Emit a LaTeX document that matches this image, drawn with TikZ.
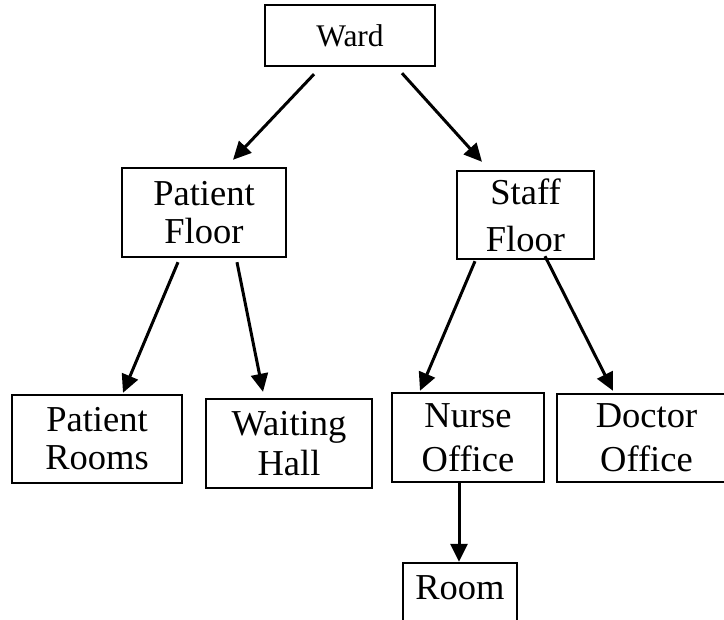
\documentclass[tikz,border=0pt]{standalone}
\usepackage{fontspec}
\setmainfont{Liberation Serif}
\usetikzlibrary{arrows.meta}

\begin{document}
\begin{tikzpicture}[x=1pt,y=-1pt,
  box/.style={draw, line width=2.4pt, rectangle, inner sep=0pt, align=center,
    font=\fontsize{36.5}{40}\selectfont},
  link/.style={line width=3pt, -{Triangle[length=18pt,width=17pt]}}]
\useasboundingbox (0,0) rectangle (724,620);
\clip (0,0) rectangle (724,620);

% boxes
\node[box, minimum width=170pt, minimum height=61pt,
      font=\fontsize{31.5}{36}\selectfont] (ward) at (350,35.5) {Ward};
\node[box, minimum width=164pt, minimum height=89pt] (pfloor) at (204,212.5) {Patient\\[-2pt]Floor};
\node[box, minimum width=137pt, minimum height=88pt] (sfloor) at (525.5,215) {Staff\\[7pt]Floor};
\node[box, minimum width=170pt, minimum height=88pt] (prooms) at (97,439) {Patient\\[-2pt]Rooms};
\node[box, minimum width=166pt, minimum height=89pt] (whall) at (289,443.5) {Waiting\\Hall};
\node[box, minimum width=152pt, minimum height=89pt] (noffice) at (468,437.5) {Nurse\\[4pt]Office};
\node[box, minimum width=179pt, minimum height=88pt] (doffice) at (646.5,438) {Doctor\\[4pt]Office};
\node[box, minimum width=114pt, minimum height=64pt, text depth=15pt] (room) at (460,595) {Room};

% connectors
\draw[link] ([shift={(-36,7)}]ward.south) -- ([shift={(29,-7)}]pfloor.north);
\draw[link] ([shift={(52,6)}]ward.south) -- ([shift={(-43.5,-8)}]sfloor.north);
\draw[link] ([shift={(-26,4)}]pfloor.south) -- ([shift={(26,-1)}]prooms.north);
\draw[link] ([shift={(33,4)}]pfloor.south) -- ([shift={(-26,-6)}]whall.north);
\draw[link] ([shift={(-50.5,1)}]sfloor.south) -- ([shift={(-48,-1)}]noffice.north);
\draw[link] ([shift={(19.5,-4)}]sfloor.south) -- ([shift={(-33.5,-2)}]doffice.north);
\draw[link] ([shift={(-9,0)}]noffice.south) -- ([shift={(-1,0)}]room.north);
\end{tikzpicture}
\end{document}
